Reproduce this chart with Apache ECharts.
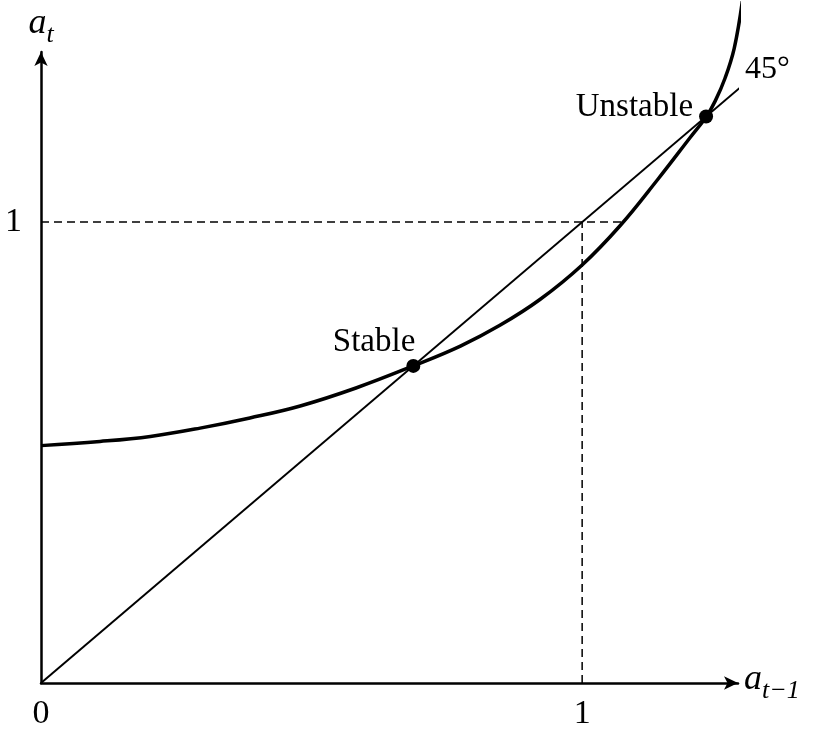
<!DOCTYPE html>
<html>
<head>
<meta charset="utf-8">
<script src="https://cdn.jsdelivr.net/npm/echarts@6/dist/echarts.min.js"></script>
<style>html,body{margin:0;padding:0;background:#fff}#c{width:827px;height:733px}</style>
</head>
<body>
<div id="c"></div>
<script>
// Data
const curveX = [0, 0.109, 0.202, 0.294, 0.386, 0.479, 0.582, 0.688, 0.775, 0.848, 0.922, 1.0, 1.070, 1.140, 1.200, 1.229, 1.246, 1.264, 1.281, 1.296];
const curveY = [0.515, 0.524, 0.535, 0.553, 0.575, 0.601, 0.640, 0.688, 0.731, 0.776, 0.832, 0.907, 0.992, 1.093, 1.184, 1.228, 1.263, 1.312, 1.377, 1.479];
const diagX = [0, 1.294];
const diagY = [0, 1.294];
const dashHX = [0, 1.074];
const dashHY = [1, 1];
const dashVX = [1, 1];
const dashVY = [0, 1];
const eqNames = ['Stable', 'Unstable'];
const eqX = [0.688, 1.229];
const eqY = [0.688, 1.229];
const xTickLabels = [0, 1];
const yTickLabels = [1];

const zip = (a, b) => a.map((v, i) => [v, b[i]]);
const FONT = 'Liberation Serif';

const chart = echarts.init(document.getElementById('c'));
chart.setOption({
  animation: false,
  backgroundColor: '#fff',
  grid: { left: 41, right: 89, top: 52, bottom: 50 },
  xAxis: {
    type: 'value', min: 0, max: 1.288, interval: 1,
    splitLine: { show: false },
    axisTick: { show: false },
    axisLine: { show: true, lineStyle: { color: '#000', width: 2.5 }, symbol: ['none', 'arrow'], symbolSize: [10, 14] },
    axisLabel: {
      color: '#000', fontFamily: FONT, fontSize: 34, margin: 14,
      formatter: v => xTickLabels.includes(v) ? String(v) : ''
    },
    name: '{a|a}{s|t\u22121}',
    nameLocation: 'end', nameGap: 6,
    nameTextStyle: {
      rich: {
        a: { fontFamily: FONT, fontStyle: 'italic', fontSize: 36, color: '#000', verticalAlign: 'bottom', padding: [0, 0, 6, 0] },
        s: { fontFamily: FONT, fontStyle: 'italic', fontSize: 26, color: '#000', verticalAlign: 'bottom' }
      }
    }
  },
  yAxis: {
    type: 'value', min: 0, max: 1.369, interval: 1,
    splitLine: { show: false },
    axisTick: { show: false },
    axisLine: { show: true, lineStyle: { color: '#000', width: 2.5 }, symbol: ['none', 'arrow'], symbolSize: [10, 14] },
    axisLabel: {
      color: '#000', fontFamily: FONT, fontSize: 34, margin: 19,
      formatter: v => yTickLabels.includes(v) ? String(v) : ''
    },
    name: '{a|a}{s|t}',
    nameLocation: 'end', nameGap: 4,
    nameTextStyle: {
      align: 'center',
      rich: {
        a: { fontFamily: FONT, fontStyle: 'italic', fontSize: 36, color: '#000', verticalAlign: 'bottom', padding: [0, 0, 6, 0] },
        s: { fontFamily: FONT, fontStyle: 'italic', fontSize: 26, color: '#000', verticalAlign: 'bottom' }
      }
    }
  },
  series: [
    {
      type: 'line', data: zip(dashHX, dashHY), showSymbol: false, clip: false, silent: true,
      lineStyle: { color: '#000', width: 1.5, type: [8, 5] }, z: 1
    },
    {
      type: 'line', data: zip(dashVX, dashVY), showSymbol: false, clip: false, silent: true,
      lineStyle: { color: '#000', width: 1.5, type: [8, 5] }, z: 1
    },
    {
      type: 'line', data: zip(diagX, diagY), showSymbol: false, clip: false, silent: true,
      lineStyle: { color: '#000', width: 2 }, z: 2,
      endLabel: { show: true, formatter: '45°', fontFamily: FONT, fontSize: 32, color: '#000', distance: 6, offset: [0, -19] }
    },
    {
      type: 'line', data: zip(curveX, curveY), showSymbol: false, clip: false, silent: true,
      smooth: 0.4,
      lineStyle: { color: '#000', width: 3.5 }, z: 3
    },
    {
      type: 'scatter', clip: false, silent: true, z: 4,
      symbolSize: 14, itemStyle: { color: '#000', opacity: 1 },
      data: eqNames.map((n, i) => ({
        value: [eqX[i], eqY[i]], name: n,
        label: i === 0
          ? { show: true, formatter: n, position: 'top', align: 'right', distance: 0, offset: [2, 0], fontFamily: FONT, fontSize: 33, color: '#000', opacity: 1 }
          : { show: true, formatter: n, position: 'left', distance: 6, offset: [0, -9], fontFamily: FONT, fontSize: 33, color: '#000', opacity: 1 }
      }))
    }
  ]
});
</script>
</body>
</html>
